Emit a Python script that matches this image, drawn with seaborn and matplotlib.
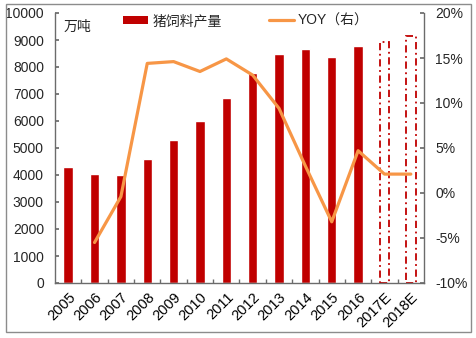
import matplotlib
matplotlib.use("Agg")
import matplotlib.pyplot as plt
import seaborn as sns
import pandas as pd
from matplotlib.patches import Rectangle
from matplotlib.lines import Line2D
from matplotlib.ticker import FuncFormatter

# Data
years = ["2005", "2006", "2007", "2008", "2009", "2010", "2011",
         "2012", "2013", "2014", "2015", "2016", "2017E", "2018E"]
output_wt = [4280, 4030, 4010, 4600, 5280, 5990, 6860,
             7770, 8470, 8670, 8380, 8780, 8940, 9150]
yoy_years = ["2006", "2007", "2008", "2009", "2010", "2011", "2012",
             "2013", "2014", "2015", "2016", "2017E", "2018E"]
yoy_pct = [-5.5, -0.4, 14.4, 14.6, 13.5, 14.9, 13.1,
           9.4, 3.0, -3.2, 4.7, 2.1, 2.1]
estimate_years = ["2017E", "2018E"]

bar_label = "猪饲料产量"
line_label = "YOY（右）"
unit_label = "万吨"

sns.set_theme(style="white")
plt.rcParams["font.family"] = ["Liberation Sans", "Noto Sans CJK SC", "DejaVu Sans"]
plt.rcParams["font.size"] = 9

RED = "#C00000"
ORANGE = "#F79646"
AXIS = "#6b6b6b"

fig = plt.figure(figsize=(4.77, 3.38), dpi=100)
ax = fig.add_axes([55 / 477, 1 - 283 / 338, (424 - 55) / 477, (283 - 13) / 338])

df = pd.DataFrame({"year": years, "value": output_wt})
sns.barplot(data=df, x="year", y="value", order=years, color=RED,
            saturation=1, width=0.36, ax=ax)

# Estimated years drawn as dash-dot outlines
for patch, yr in zip(ax.patches, years):
    if yr in estimate_years:
        patch.set_facecolor("none")
        patch.set_edgecolor(RED)
        patch.set_linestyle((0, (4, 2, 1, 2)))
        patch.set_linewidth(1.3)

ax.set_ylim(0, 10000)
ax.set_yticks(range(0, 10001, 1000))
ax.set_xlim(-0.5, len(years) - 0.5)
ax.set_xlabel("")
ax.set_ylabel("")

# Secondary axis for YOY
ax2 = ax.twinx()
xpos = [years.index(y) for y in yoy_years]
yoy_df = pd.DataFrame({"x": xpos, "yoy": yoy_pct})
sns.lineplot(data=yoy_df, x="x", y="yoy", color=ORANGE, linewidth=2.3,
             sort=False, ax=ax2)
ax2.set_ylim(-10, 20)
ax2.set_yticks(range(-10, 21, 5))
ax2.yaxis.set_major_formatter(FuncFormatter(lambda v, p: f"{v:.0f}%"))
ax2.set_ylabel("")
ax2.set_xlabel("")

# Category tick marks sit between the bars
ax.set_xticks(range(len(years)))
ax.set_xticklabels(years, rotation=45, ha="right", rotation_mode="anchor")
ax.set_xticks([i + 0.5 for i in range(len(years) - 1)], minor=True)
ax.tick_params(axis="x", which="major", length=0, pad=5, labelsize=10.5, colors="black")
ax.tick_params(axis="x", which="minor", direction="in", length=3,
               color=AXIS, bottom=True)
ax.tick_params(axis="y", direction="in", length=3, color=AXIS,
               labelsize=10, pad=8, left=True)
ax2.tick_params(axis="y", direction="in", length=3, color=AXIS,
                labelsize=10, pad=8, right=True)

for a in (ax, ax2):
    a.spines["top"].set_visible(False)
    for side in ("left", "bottom", "right"):
        a.spines[side].set_color(AXIS)
        a.spines[side].set_linewidth(1.0)
ax2.spines["left"].set_visible(False)
ax2.spines["bottom"].set_visible(False)
ax.spines["right"].set_visible(False)

ax.text(0.022, 0.948, unit_label, transform=ax.transAxes, ha="left", va="center",
        fontsize=10)

handles = [Rectangle((0, 0), 1, 1, facecolor=RED, edgecolor="none"),
           Line2D([0], [0], color=ORANGE, linewidth=2.3)]
leg = fig.legend(handles, [bar_label, line_label], ncol=2, loc="center left",
                 bbox_to_anchor=(123 / 477, 1 - 21 / 338),
                 bbox_transform=fig.transFigure, frameon=False, fontsize=10,
                 borderpad=0, borderaxespad=0,
                 handlelength=1.8, handleheight=0.55, handletextpad=0.3,
                 columnspacing=3.4)

# Outer frame
fig.patches.append(Rectangle((6 / 477, 1 - 332 / 338), (471 - 6) / 477,
                             (332 - 4) / 338, transform=fig.transFigure,
                             fill=False, edgecolor="#8c8c8c", linewidth=1.0))

fig.savefig("out.png", dpi=100)
